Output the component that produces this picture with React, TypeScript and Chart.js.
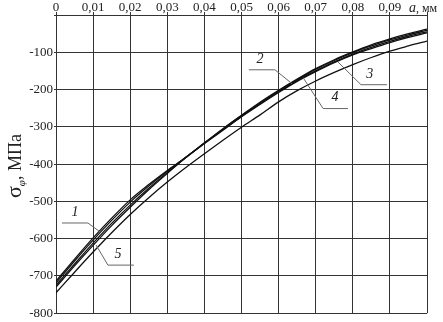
import React, { useEffect, useRef } from "react";
import { Chart, registerables } from "chart.js";

Chart.register(...registerables);

// a, mm
const xValues = [0, 0.005, 0.01, 0.015, 0.02, 0.025, 0.03, 0.035, 0.04, 0.045, 0.05, 0.055, 0.06, 0.065, 0.07, 0.075, 0.08, 0.085, 0.09, 0.095, 0.1];

// sigma_phi, MPa
const curve1 = [-714, -655, -598, -545, -496, -455, -417, -382, -343, -305, -269, -234, -202, -172, -144, -120, -99, -80, -64, -50, -38];
const curve2 = [-719, -660, -604, -551, -502, -459, -419, -382, -344, -306, -270, -236, -204, -174, -146, -122, -101, -83, -67, -53, -41];
const curve3 = [-725, -668, -612, -559, -510, -465, -423, -382, -344, -308, -272, -238, -206, -176, -150, -126, -105, -87, -71, -57, -45];
const curve4 = [-730, -673, -618, -565, -516, -469, -425, -382, -345, -309, -273, -240, -208, -178, -152, -128, -107, -90, -74, -60, -48];
const curve5 = [-745, -690, -636, -584, -535, -490, -448, -409, -372, -336, -301, -268, -233, -203, -177, -154, -133, -114, -97, -83, -70];

const xTicks = [0, 0.01, 0.02, 0.03, 0.04, 0.05, 0.06, 0.07, 0.08, 0.09, 0.1];
const yTicks = [0, -100, -200, -300, -400, -500, -600, -700, -800];

const seriesList = [curve1, curve2, curve3, curve4, curve5];

// curve callouts, in data coordinates
const callouts = [
  { text: "1", at: [0.0051, -529], path: [[0.0016, -558], [0.0086, -558], [0.0119, -582]] },
  { text: "5", at: [0.0167, -641], path: [[0.0108, -617], [0.014, -671], [0.021, -671]] },
  { text: "2", at: [0.055, -120], path: [[0.052, -147], [0.059, -147], [0.0636, -184]] },
  { text: "4", at: [0.0752, -222], path: [[0.0666, -168], [0.072, -251], [0.0787, -251]] },
  { text: "3", at: [0.0846, -158], path: [[0.076, -126], [0.0822, -187], [0.0892, -187]] },
];

const SERIF = "'Liberation Serif', 'DejaVu Serif', serif";

const decorPlugin = {
  id: "decor",
  afterDraw(chart: any) {
    const { ctx, scales, chartArea } = chart;
    const xs = scales.x;
    const ys = scales.y;
    ctx.save();
    // callouts
    for (const c of callouts) {
      ctx.strokeStyle = "#666";
      ctx.lineWidth = 1;
      ctx.beginPath();
      c.path.forEach((p: number[], i: number) => {
        const px = xs.getPixelForValue(p[0]);
        const py = ys.getPixelForValue(p[1]);
        if (i === 0) ctx.moveTo(px, py);
        else ctx.lineTo(px, py);
      });
      ctx.stroke();
      ctx.fillStyle = "#222";
      ctx.font = "italic 14px " + SERIF;
      ctx.textAlign = "center";
      ctx.textBaseline = "middle";
      ctx.fillText(c.text, xs.getPixelForValue(c.at[0]), ys.getPixelForValue(c.at[1]));
    }
    // x axis unit label "a, мм"
    const xEnd = xs.getPixelForValue(0.1);
    ctx.fillStyle = "#222";
    ctx.textBaseline = "alphabetic";
    ctx.textAlign = "left";
    const baseY = chartArea.top - 3;
    ctx.font = "italic 14px " + SERIF;
    const ax = xEnd - 18;
    ctx.fillText("a", ax, baseY);
    const aw = ctx.measureText("a").width;
    ctx.font = "12px " + SERIF;
    ctx.fillText(", мм", ax + aw, baseY);
    // y axis title σφ, МПа (rotated)
    ctx.translate(21, (chartArea.top + chartArea.bottom) / 2 + 2);
    ctx.rotate(-Math.PI / 2);
    ctx.textAlign = "left";
    ctx.textBaseline = "alphabetic";
    const parts: [string, string, number][] = [
      ["σ", "22px " + SERIF, 0],
      ["φ", "italic 11px " + SERIF, 4],
      [", МПа", "18px " + SERIF, 0],
    ];
    let total = 0;
    for (const [t, f] of parts) {
      ctx.font = f;
      total += ctx.measureText(t).width;
    }
    let cx = -total / 2;
    for (const [t, f, dy] of parts) {
      ctx.font = f;
      ctx.fillText(t, cx, dy);
      cx += ctx.measureText(t).width;
    }
    ctx.restore();
  },
};

export default function App() {
  const ref = useRef<HTMLCanvasElement | null>(null);
  useEffect(() => {
    document.body.style.margin = "0";
    const canvas = ref.current!;
    const chart = new Chart(canvas, {
      type: "line",
      data: {
        datasets: seriesList.map((s, i) => ({
          label: String(i + 1),
          data: xValues.map((x, j) => ({ x, y: s[j] })),
          borderColor: "#111",
          borderWidth: 1.3,
          pointRadius: 0,
          cubicInterpolationMode: "monotone" as const,
          fill: false,
        })),
      },
      options: {
        animation: false,
        responsive: false,
        maintainAspectRatio: false,
        layout: { padding: { left: 0, right: 16, top: 0, bottom: 8 } },
        plugins: { legend: { display: false }, tooltip: { enabled: false } },
        scales: {
          x: {
            type: "linear",
            position: "top",
            min: 0,
            max: 0.1,
            afterBuildTicks: (axis: any) => {
              axis.ticks = xTicks.map((v) => ({ value: v }));
            },
            afterFit: (axis: any) => {
              axis.height = 15;
            },
            ticks: {
              color: "#222",
              font: { family: SERIF, size: 13 },
              padding: -3,
              maxRotation: 0,
              autoSkip: false,
              callback: (v: any) => {
                const n = Number(v);
                if (Math.abs(n - 0.1) < 1e-9) return "";
                if (n === 0) return "0";
                return n.toFixed(2).replace(".", ",");
              },
            },
            grid: { color: "#333", lineWidth: 1, tickLength: 3, drawTicks: true },
            border: { color: "#333", width: 1 },
          },
          y: {
            type: "linear",
            min: -800,
            max: 0,
            afterBuildTicks: (axis: any) => {
              axis.ticks = yTicks.map((v) => ({ value: v }));
            },
            afterFit: (axis: any) => {
              axis.width = 56;
            },
            ticks: {
              color: "#222",
              font: { family: SERIF, size: 13 },
              padding: 1,
              callback: (v: any) => (Number(v) === 0 ? "" : String(v)),
            },
            grid: { color: "#333", lineWidth: 1, tickLength: 2 },
            border: { color: "#333", width: 1 },
          },
        },
      },
      plugins: [decorPlugin],
    });
    return () => chart.destroy();
  }, []);
  return (
    <div style={{ position: "absolute", left: 0, top: 0, width: 443, height: 322, background: "#fff" }}>
      <canvas ref={ref} width={443} height={322} style={{ width: 443, height: 322 }} />
    </div>
  );
}
